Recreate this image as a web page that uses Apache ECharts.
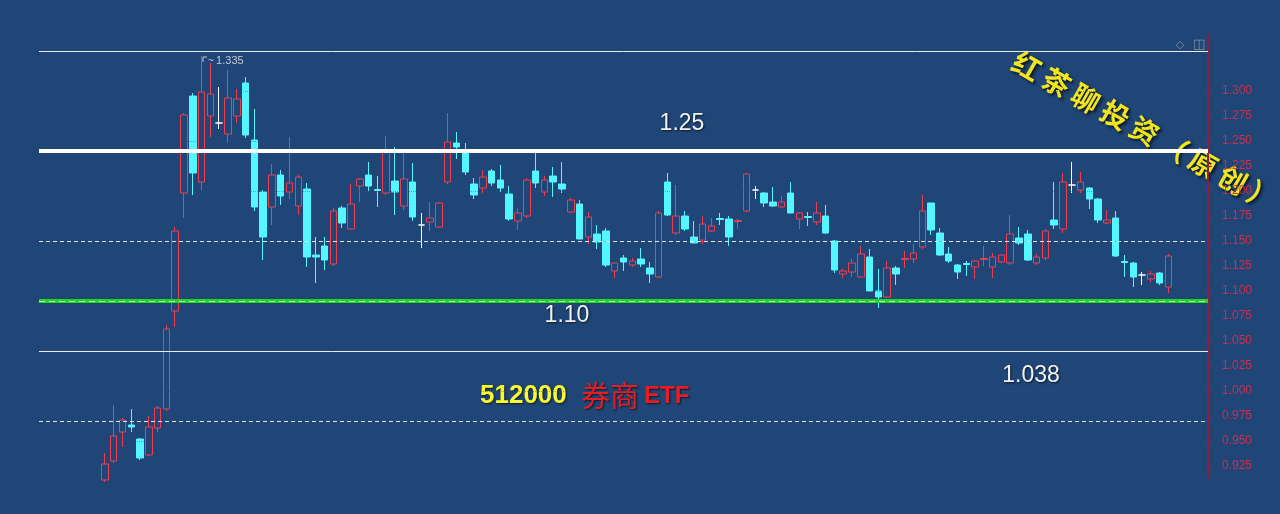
<!DOCTYPE html>
<html><head><meta charset="utf-8">
<script src="https://cdn.jsdelivr.net/npm/echarts@6/dist/echarts.min.js"></script>
<style>html,body{margin:0;padding:0;background:#1f4677;}#c{width:1280px;height:514px;}</style>
</head><body><div id="c"></div>
<script>
// ---- data ----
const opens  = [0.911,0.930,0.959,0.966,0.952,0.936,0.963,0.982,1.080,1.198,
                1.295,1.209,1.275,1.268,1.257,1.275,1.308,1.251,1.199,1.184,
                1.216,1.199,1.185,1.202,1.136,1.145,1.127,1.183,1.162,1.205,
                1.216,1.2015,1.198,1.210,1.185,1.209,1.166,1.169,1.164,1.209,
                1.248,1.238,1.207,1.203,1.220,1.211,1.197,1.170,1.175,1.220,
                1.199,1.215,1.207,1.179,1.187,1.154,1.157,1.160,1.120,1.133,
                1.126,1.132,1.123,1.114,1.209,1.158,1.175,1.154,1.151,1.160,
                1.1725,1.172,1.1695,1.180,1.201,1.198,1.189,1.184,1.198,1.172,
                1.1745,1.169,1.175,1.150,1.117,1.119,1.114,1.134,1.100,1.094,
                1.123,1.1315,1.132,1.144,1.188,1.158,1.137,1.126,1.1275,1.124,
                1.1315,1.124,1.129,1.128,1.153,1.157,1.128,1.133,1.171,1.162,
                1.206,1.201,1.203,1.192,1.168,1.173,1.1295,1.128,1.116,1.112,
                1.118,1.104];
const closes = [0.927,0.955,0.971,0.964,0.933,0.964,0.983,1.062,1.160,1.276,
                1.218,1.299,1.297,1.268,1.293,1.292,1.256,1.184,1.154,1.216,
                1.195,1.208,1.214,1.134,1.134,1.131,1.180,1.168,1.187,1.212,
                1.205,1.2005,1.240,1.199,1.212,1.174,1.166,1.173,1.188,1.249,
                1.244,1.219,1.196,1.214,1.208,1.203,1.172,1.178,1.211,1.208,
                1.211,1.209,1.202,1.191,1.152,1.174,1.149,1.126,1.128,1.129,
                1.130,1.127,1.117,1.178,1.176,1.175,1.162,1.148,1.167,1.165,
                1.1715,1.154,1.1705,1.217,1.201,1.188,1.185,1.189,1.178,1.178,
                1.1735,1.178,1.158,1.121,1.120,1.128,1.137,1.100,1.094,1.123,
                1.117,1.1325,1.138,1.180,1.161,1.136,1.130,1.119,1.1265,1.130,
                1.1325,1.134,1.136,1.157,1.148,1.131,1.134,1.160,1.166,1.209,
                1.206,1.209,1.192,1.171,1.171,1.135,1.1285,1.114,1.116,1.117,
                1.108,1.135];
const lows   = [0.909,0.928,0.944,0.959,0.931,0.935,0.959,0.980,1.064,1.173,
                1.196,1.201,1.254,1.262,1.248,1.268,1.253,1.180,1.131,1.166,
                1.186,1.192,1.176,1.124,1.108,1.121,1.125,1.163,1.161,1.189,
                1.200,1.184,1.196,1.176,1.181,1.170,1.143,1.160,1.163,1.207,
                1.232,1.216,1.192,1.198,1.205,1.199,1.170,1.161,1.173,1.203,
                1.195,1.194,1.198,1.178,1.152,1.147,1.142,1.124,1.113,1.120,
                1.124,1.124,1.108,1.113,1.175,1.156,1.160,1.148,1.147,1.159,
                1.166,1.145,1.162,1.179,1.192,1.184,1.184,1.184,1.178,1.162,
                1.165,1.166,1.157,1.118,1.113,1.114,1.113,1.099,1.083,1.093,
                1.106,1.123,1.128,1.142,1.156,1.135,1.128,1.112,1.115,1.112,
                1.125,1.113,1.128,1.126,1.146,1.130,1.126,1.131,1.162,1.158,
                1.198,1.198,1.182,1.168,1.167,1.134,1.114,1.104,1.106,1.109,
                1.106,1.098];
const highs  = [0.938,0.986,0.973,0.982,0.953,0.975,0.985,1.066,1.164,1.278,
                1.298,1.335,1.328,1.304,1.321,1.302,1.314,1.282,1.201,1.227,
                1.221,1.254,1.216,1.208,1.154,1.154,1.183,1.185,1.207,1.213,
                1.229,1.215,1.255,1.244,1.238,1.228,1.178,1.189,1.189,1.278,
                1.259,1.248,1.213,1.221,1.222,1.226,1.205,1.183,1.213,1.242,
                1.215,1.224,1.229,1.193,1.191,1.179,1.166,1.163,1.129,1.136,
                1.133,1.143,1.129,1.180,1.218,1.206,1.180,1.170,1.175,1.173,
                1.178,1.175,1.172,1.218,1.205,1.199,1.204,1.195,1.209,1.179,
                1.179,1.189,1.186,1.151,1.122,1.132,1.145,1.142,1.122,1.130,
                1.125,1.140,1.147,1.196,1.188,1.163,1.144,1.127,1.130,1.131,
                1.145,1.138,1.137,1.176,1.164,1.161,1.137,1.162,1.209,1.218,
                1.229,1.219,1.204,1.193,1.181,1.180,1.136,1.129,1.119,1.120,
                1.119,1.137];
const sessions = opens.map((_, i) => 'D' + (i + 1));
const tickLabels = ['1.300','1.275','1.250','1.225','1.200','1.175','1.150','1.125',
                    '1.100','1.075','1.050','1.025','1.000','0.975','0.950','0.925'];
const gridLevels = [1.300,1.250,1.200,1.150,1.100,1.050,1.000,0.950];
const levelValues = [1.336, 1.244, 1.152, 1.094, 1.039, 1.037, 0.968];
const levelTexts = ['1.25','1.10','1.038'];
const highLabel = '1.335';
const titleCode = '512000', titleName = '券商', titleTail = 'ETF';
const watermark = '红茶聊投资（原创）';

// ---- padding categories so candles sit where the reference has them ----
const leadBlank = 7, tailBlank = 4;
const cats = [];
for (let i = 0; i < leadBlank; i++) cats.push('p' + i);
sessions.forEach(s => cats.push(s));
for (let i = 0; i < tailBlank; i++) cats.push('q' + i);

const UP = '#f03c50', DOWN = '#54f6ff', BG = '#1f4677';
const kData = [];
for (let i = 0; i < leadBlank; i++) kData.push('-');
opens.forEach((o, i) => {
  const item = { value: [o, closes[i], lows[i], highs[i]] };
  if (o === closes[i]) item.itemStyle = { color: '#ffffff', color0: '#ffffff', borderColor: '#ffffff', borderColor0: '#ffffff' };
  kData.push(item);
});
for (let i = 0; i < tailBlank; i++) kData.push('-');

const lvStyles = [
  { color: '#e8ecf0', width: 1, type: 'solid' },
  { color: '#ffffff', width: 4, type: 'solid' },
  { color: '#dfe8f2', width: 1, type: [4, 3] },
  { color: '#20d820', width: 4, type: 'solid' },
  { color: '#dfe8f2', width: 1, type: [4, 3] },
  { color: '#e8ecf0', width: 1, type: 'solid' },
  { color: '#dfe8f2', width: 1, type: [4, 3] }
];
const levelLines = levelValues.map((v, i) => ({ yAxis: v, lineStyle: lvStyles[i] }));
levelLines.push({ yAxis: levelValues[3], lineStyle: { color: '#b8ffb0', width: 1, type: [6, 4] } });

const chart = echarts.init(document.getElementById('c'), null, { renderer: 'canvas' });
const shadow = { textShadowColor: 'rgba(0,0,0,0.65)', textShadowBlur: 2, textShadowOffsetX: 1, textShadowOffsetY: 1 };

const graphics = [
  { type: 'text', x: 682, y: 124, style: Object.assign({ text: levelTexts[0], fill: '#f2f2f2', font: '23px "Liberation Sans", Arial', align: 'center', verticalAlign: 'middle' }, shadow) },
  { type: 'text', x: 567, y: 316, style: Object.assign({ text: levelTexts[1], fill: '#f2f2f2', font: '23px "Liberation Sans", Arial', align: 'center', verticalAlign: 'middle' }, shadow) },
  { type: 'text', x: 1031, y: 376, style: Object.assign({ text: levelTexts[2], fill: '#f2f2f2', font: '23px "Liberation Sans", Arial', align: 'center', verticalAlign: 'middle' }, shadow) },
  { type: 'text', x: 480, y: 396, style: Object.assign({ text: titleCode, fill: '#f8f830', font: 'bold 26px "Liberation Sans", Arial', align: 'left', verticalAlign: 'middle' }, shadow) },
  { type: 'text', x: 581, y: 396, style: Object.assign({ text: titleName, fill: '#e81c22', font: '29px "Noto Sans CJK SC"', align: 'left', verticalAlign: 'middle' }, shadow) },
  { type: 'text', x: 644, y: 396, style: Object.assign({ text: titleTail, fill: '#e81c22', font: 'bold 24px "Liberation Sans", Arial', align: 'left', verticalAlign: 'middle' }, shadow) },
  { type: 'text', x: 1180, y: 45, style: { text: '◇', fill: '#8290a4', font: '11px "DejaVu Sans"', align: 'center', verticalAlign: 'middle' } },
  { type: 'text', x: 1199, y: 45, style: { text: '◫', fill: '#8290a4', font: '13px "DejaVu Sans"', align: 'center', verticalAlign: 'middle' } },
  { type: 'polyline', shape: { points: [[203, 62], [203, 57], [207, 57]] }, style: { stroke: '#c2cad6', lineWidth: 1, fill: null } },
  { type: 'text', x: 208, y: 61, style: { text: '~', fill: '#c2cad6', font: '10px "Liberation Sans"', align: 'left', verticalAlign: 'middle' } }
];
// diagonal watermark, one glyph at a time along the slanted line
const wChars = Array.from(watermark);
const wx0 = 1027, wy0 = 66, wx1 = 1262, wy1 = 196;
wChars.forEach((ch, i) => {
  const t = i / (wChars.length - 1);
  graphics.push({ type: 'text', x: wx0 + (wx1 - wx0) * t, y: wy0 + (wy1 - wy0) * t, rotation: -0.52,
    style: { text: ch, fill: '#f2e41e', font: 'bold 28px "Noto Sans CJK SC"', align: 'center', verticalAlign: 'middle',
             textShadowColor: 'rgba(0,0,0,0.7)', textShadowBlur: 3, textShadowOffsetX: 2, textShadowOffsetY: 2 } });
});

const tickVals = tickLabels.map(Number);
chart.setOption({
  backgroundColor: BG,
  animation: false,
  grid: { left: 39, right: 72, top: 35, bottom: 36 },
  xAxis: { type: 'category', data: cats, boundaryGap: true, show: false },
  yAxis: {
    type: 'value', position: 'right', min: 0.913, max: 1.356,
    axisLine: { show: true, lineStyle: { color: '#8e1e40', width: 2 } },
    axisTick: { show: true, length: 4, lineStyle: { color: '#8e1e40' }, customValues: tickVals },
    splitLine: { show: false },
    axisLabel: {
      margin: 14, color: '#c8304e', fontSize: 12, fontFamily: '"Liberation Sans", Arial',
      customValues: tickVals,
      formatter: v => v.toFixed(3)
    }
  },
  graphic: graphics,
  series: [
    {
      type: 'line', data: cats.map(() => '-'), silent: true, z: 1, symbol: 'none',
      markLine: { silent: true, symbol: 'none', label: { show: false },
        lineStyle: { color: 'rgba(150,40,70,0.45)', width: 1, type: 'dotted' },
        data: gridLevels.map(v => ({ yAxis: v })) }
    },
    {
      type: 'candlestick', data: kData, z: 2, barWidth: 7,
      itemStyle: { color: 'rgba(0,0,0,0)', color0: DOWN, borderColor: UP, borderColor0: DOWN, borderWidth: 1 },
      emphasis: { disabled: true },
      markLine: { silent: true, symbol: 'none', label: { show: false }, data: levelLines },
      markPoint: {
        symbol: 'circle', symbolSize: 1, itemStyle: { color: 'rgba(0,0,0,0)' },
        label: { show: true, position: 'right', formatter: highLabel, color: '#c2cad6', fontSize: 11,
                 fontFamily: '"Liberation Sans", Arial', offset: [9, 5] },
        data: [{ coord: [sessions[11], highs[11]] }]
      }
    }
  ]
});
</script></body></html>
